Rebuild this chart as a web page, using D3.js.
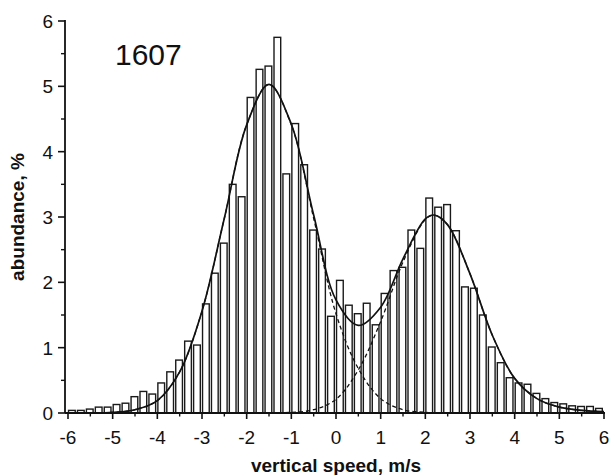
<!DOCTYPE html>
<html>
<head>
<meta charset="utf-8">
<script src="https://cdn.jsdelivr.net/npm/d3@7"></script>
<style>
    body { margin: 0; background: #fff; }
    text { font-family: "Liberation Sans", Arial, sans-serif; fill: #111; }
</style>
</head>
<body>
<svg id="chart" width="613" height="475"></svg>
<script>
const width = 613;
const height = 475;

// histogram, bin width 0.2 m/s, values in %
const binWidth = 0.2;
const binCenters = d3.range(60).map(i => +(-5.9 + i * binWidth).toFixed(1));
const abundance = [
    0.04, 0.04, 0.06, 0.09, 0.09, 0.13, 0.15, 0.25, 0.33, 0.29,
    0.46, 0.63, 0.81, 1.10, 1.04, 1.67, 2.14, 2.60, 3.50, 3.31,
    4.83, 5.26, 5.31, 5.75, 3.66, 4.43, 3.80, 2.80, 2.51, 1.48,
    2.03, 1.65, 1.52, 1.68, 1.35, 1.83, 2.18, 2.23, 2.80, 2.52,
    3.29, 3.15, 3.19, 2.79, 1.93, 1.91, 1.50, 1.01, 0.77, 0.54,
    0.46, 0.44, 0.30, 0.22, 0.16, 0.14, 0.11, 0.10, 0.10, 0.07
];

// fitted curves
const fitX = [-6, -5.5, -5, -4.5, -4, -3.5, -3, -2.5, -2, -1.5, -1, -0.5, 0,
    0.5, 1, 1.5, 2, 2.2, 2.5, 3, 3.5, 4, 4.5, 5, 5.5, 6];
const fitDown = [0, 0, 0.01, 0.05, 0.19, 0.63, 1.56, 2.98, 4.41, 5.03, 4.41, 2.98, 1.52,
    0.68, 0.22, 0.05, 0.01, 0, 0, 0, 0, 0, 0, 0, 0, 0];
const fitUp = [0, 0, 0, 0, 0, 0, 0, 0, 0, 0, 0.01, 0.05, 0.21,
    0.66, 1.40, 2.31, 2.96, 3.03, 2.88, 2.13, 1.19, 0.53, 0.22, 0.09, 0.04, 0.02];
const fitTotal = [0, 0, 0.01, 0.05, 0.19, 0.63, 1.56, 2.98, 4.41, 5.03, 4.42, 3.03, 1.73,
    1.34, 1.62, 2.36, 2.97, 3.03, 2.88, 2.13, 1.19, 0.53, 0.22, 0.09, 0.04, 0.02];

const xTicks = d3.range(-6, 7, 1);
const xMinor = d3.range(-5.5, 6, 1);
const yTicks = [0, 1, 2, 3, 4, 5, 6];
const yMinor = [0.5, 1.5, 2.5, 3.5, 4.5, 5.5];

const svg = d3.select("#chart");

const xScale = d3.scaleLinear().domain([-6, 6]).range([68, 604]);
const yScale = d3.scaleLinear().domain([0, 6]).range([413, 21]);

// bars
svg.append("g").selectAll("rect").data(binCenters).enter()
    .append("rect")
    .attr("x", (d) => xScale(d - binWidth / 2 + 0.012))
    .attr("width", xScale(0.15) - xScale(0))
    .attr("y", (d, i) => yScale(abundance[i]))
    .attr("height", (d, i) => yScale(0) - yScale(abundance[i]))
    .attr("fill", "#fff")
    .attr("stroke", "#1a1a1a")
    .attr("stroke-width", 1.4);

const line = (ys) => d3.line()
    .x((d, i) => xScale(fitX[i]))
    .y((d) => yScale(d))
    .curve(d3.curveCatmullRom.alpha(0.5))(ys);

svg.append("path").attr("d", line(fitDown))
    .attr("fill", "none").attr("stroke", "#111").attr("stroke-width", 1.3)
    .attr("stroke-dasharray", "4,3");
svg.append("path").attr("d", line(fitUp))
    .attr("fill", "none").attr("stroke", "#111").attr("stroke-width", 1.3)
    .attr("stroke-dasharray", "4,3");
svg.append("path").attr("d", line(fitTotal))
    .attr("fill", "none").attr("stroke", "#111").attr("stroke-width", 1.7);

// axes
const xAxis = svg.append("g").attr("transform", "translate(0,413)");
xAxis.append("line").attr("x1", 65).attr("x2", 605)
    .attr("stroke", "#111").attr("stroke-width", 1.8);
xAxis.selectAll(".major").data(xTicks).enter().append("line")
    .attr("x1", xScale).attr("x2", xScale).attr("y1", 0).attr("y2", 6)
    .attr("stroke", "#111").attr("stroke-width", 1.6);
xAxis.selectAll(".minor").data(xMinor).enter().append("line")
    .attr("x1", xScale).attr("x2", xScale).attr("y1", 0).attr("y2", 3.5)
    .attr("stroke", "#111").attr("stroke-width", 1.4);
xAxis.selectAll("text").data(xTicks).enter().append("text")
    .attr("x", xScale).attr("y", 31)
    .attr("text-anchor", "middle")
    .attr("font-size", 19)
    .text((d) => d);

const yAxis = svg.append("g").attr("transform", "translate(65,0)");
yAxis.append("line").attr("y1", yScale(6) - 1).attr("y2", yScale(0))
    .attr("stroke", "#111").attr("stroke-width", 1.8);
yAxis.selectAll(".major").data(yTicks).enter().append("line")
    .attr("x1", -7).attr("x2", 0).attr("y1", yScale).attr("y2", yScale)
    .attr("stroke", "#111").attr("stroke-width", 1.6);
yAxis.selectAll(".minor").data(yMinor).enter().append("line")
    .attr("x1", -4).attr("x2", 0).attr("y1", yScale).attr("y2", yScale)
    .attr("stroke", "#111").attr("stroke-width", 1.4);
yAxis.selectAll("text").data(yTicks).enter().append("text")
    .attr("x", -12).attr("y", yScale).attr("dy", "0.36em")
    .attr("text-anchor", "end")
    .attr("font-size", 19)
    .text((d) => d);

svg.append("text")
    .attr("x", 336).attr("y", 472)
    .attr("text-anchor", "middle")
    .attr("font-size", 19)
    .attr("font-weight", "bold")
    .text("vertical speed, m/s");

svg.append("text")
    .attr("transform", "translate(24,217) rotate(-90)")
    .attr("text-anchor", "middle")
    .attr("font-size", 19)
    .attr("font-weight", "bold")
    .text("abundance, %");

svg.append("text")
    .attr("x", 115).attr("y", 65)
    .attr("font-size", 30)
    .text("1607");
</script>
</body>
</html>
